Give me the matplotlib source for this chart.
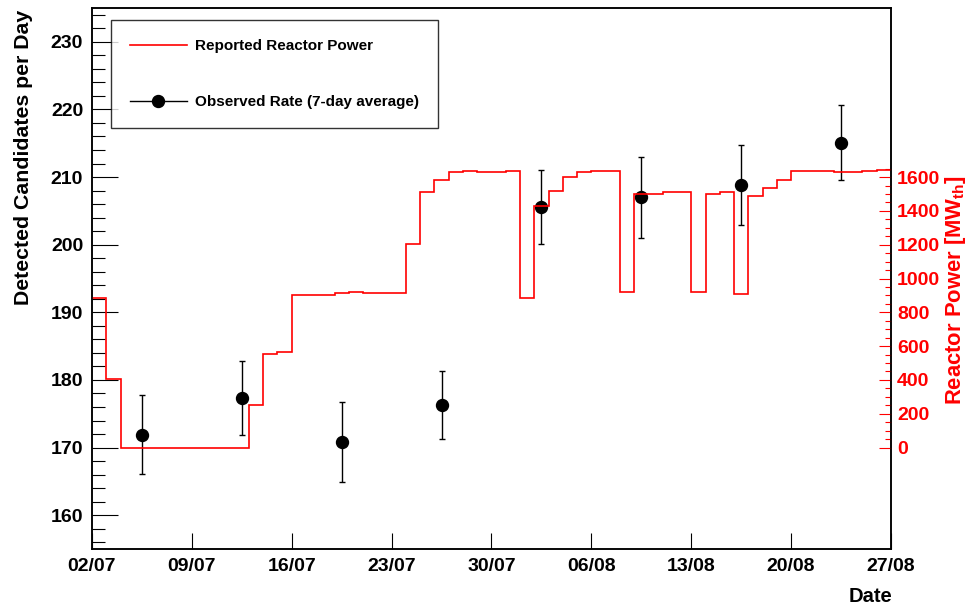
import matplotlib.pyplot as plt
import numpy as np
from matplotlib.lines import Line2D
from matplotlib.ticker import MultipleLocator, FixedLocator

plt.rcParams['font.family'] = 'Liberation Sans'
plt.rcParams['font.weight'] = 'bold'
plt.rcParams['mathtext.fontset'] = 'custom'
plt.rcParams['mathtext.rm'] = 'Liberation Sans:bold'
plt.rcParams['mathtext.it'] = 'Liberation Sans:bold'

# reported reactor power, one value per day starting 02/07 (MW_th)
power = [886, 408, 0, 0, 0, 0, 0, 0, 0, 0, 0, 253, 555, 563,
         902, 902, 902, 912, 922, 912, 912, 912, 1202, 1510, 1580, 1629,
         1635, 1629, 1629, 1637, 882, 1429, 1519, 1600, 1629, 1635, 1635,
         922, 1502, 1502, 1514, 1514, 922, 1502, 1510, 906, 1490, 1535,
         1580, 1635, 1635, 1635, 1629, 1629, 1635, 1641]

# observed rate, 7-day averages (day index of window centre)
obs_day = [3.5, 10.5, 17.5, 24.5, 31.5, 38.5, 45.5, 52.5]
obs_rate = [171.9, 177.35, 170.8, 176.3, 205.6, 207.0, 208.8, 215.1]
obs_err = [5.8, 5.45, 5.9, 5.05, 5.45, 5.95, 5.9, 5.6]

date_labels = ['02/07', '09/07', '16/07', '23/07', '30/07',
               '06/08', '13/08', '20/08', '27/08']

W, H = 978, 610
fig = plt.figure(figsize=(W / 100, H / 100), dpi=100)
ax = fig.add_axes([92 / W, 1 - 549 / H, (891 - 92) / W, (549 - 8) / H])

edges = np.arange(len(power) + 1)
ax.set_xlim(0, len(power))
ax.set_ylim(155, 235)

ax.errorbar(obs_day, obs_rate, yerr=obs_err, fmt='o', color='black',
            ms=8.6, elinewidth=1, capsize=2.2, capthick=1)

ax2 = ax.twinx()
ax2.set_ylim(-600, 2600)
ax2.stairs(power, edges, baseline=None, color='red', lw=1.2)

# left axis
ax.yaxis.set_major_locator(MultipleLocator(10))
ax.yaxis.set_minor_locator(MultipleLocator(2))
ax.tick_params(axis='y', which='major', direction='in', length=18.5,
               width=0.8, labelsize=14, pad=6.3, right=False)
ax.tick_params(axis='y', which='minor', direction='in', length=9.4,
               width=0.8, right=False)

# date axis
ax.xaxis.set_major_locator(FixedLocator(np.arange(0, 57, 7)))
ax.set_xticklabels(date_labels)
ax.tick_params(axis='x', which='major', direction='in', length=11.5,
               width=0.8, labelsize=14, pad=6.3, top=False)

# right axis (reactor power)
ax2.yaxis.set_major_locator(FixedLocator(np.arange(0, 1601, 200)))
ax2.yaxis.set_minor_locator(FixedLocator(np.arange(0, 1651, 50)))
ax2.tick_params(axis='y', which='major', direction='in', length=8.6,
                width=0.8, labelsize=14, pad=4.3, colors='red')
ax2.tick_params(axis='y', which='minor', direction='in', length=4.3,
                width=0.8, colors='red')

for a in (ax, ax2):
    for s in a.spines.values():
        s.set_linewidth(1.1)

fig.text(23.5 / W, 1 - 10 / H, 'Detected Candidates per Day', rotation=90,
         ha='center', va='top', fontsize=15.3)
fig.text(956 / W, 1 - 290 / H, r'Reactor Power [MW$_{\rm th}$]', rotation=90,
         ha='center', va='center', fontsize=15.8, color='red')
fig.text(892 / W, 1 - 597 / H, 'Date', ha='right', va='center', fontsize=14.5)

handles = [Line2D([], [], color='red', lw=1.2),
           Line2D([], [], color='black', lw=1, marker='o', ms=8.6)]
leg = ax2.legend(handles, ['Reported Reactor Power', 'Observed Rate (7-day average)'],
                 loc='upper left', bbox_to_anchor=(111 / W, 1 - 20 / H),
                 bbox_transform=fig.transFigure, fontsize=11, frameon=True,
                 fancybox=False, borderpad=1.25, labelspacing=2.75,
                 handlelength=3.7, handletextpad=0.55, borderaxespad=0)
leg.get_frame().set_edgecolor('black')
leg.get_frame().set_linewidth(1)

fig.savefig('out.png', dpi=100)
